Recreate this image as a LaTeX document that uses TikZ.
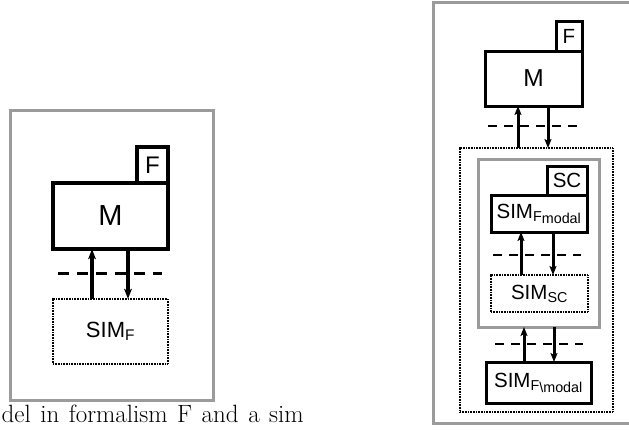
\documentclass[tikz,border=0pt]{standalone}
\usepackage{fontspec}
\newfontfamily\diagfont{Liberation Sans}
\usetikzlibrary{arrows.meta}
\definecolor{framegray}{RGB}{155,155,155}
\newcommand{\lowsub}[1]{\raisebox{-0.25ex}{#1}}
\begin{document}
\begin{tikzpicture}[x=1pt,y=-1pt,
  frame/.style={draw=framegray, line width=3pt, inner sep=0pt, outer sep=0pt},
  lbox/.style={draw, line width=3.4pt, inner sep=0pt, outer sep=0pt},
  rbox/.style={draw, line width=3pt, inner sep=0pt, outer sep=0pt},
  ldot/.style={draw, line width=2.4pt, dash pattern=on 0.8pt off 0.8pt, inner sep=0pt, outer sep=0pt},
  rdot/.style={draw, line width=2.2pt, dash pattern=on 0.8pt off 0.8pt, inner sep=0pt, outer sep=0pt},
  ldash/.style={line width=3pt, dash pattern=on 11pt off 8pt},
  rdash/.style={line width=2.8pt, dash pattern=on 9pt off 7pt},
  larr/.style={line width=3.4pt, -{Stealth[length=10pt,width=7.5pt,inset=2pt]}},
  rarr/.style={line width=3pt, -{Stealth[length=9pt,width=7pt,inset=2pt]}},
  lfont/.style={font=\diagfont\fontsize{29}{32}\selectfont},
  lsim/.style={font=\diagfont\fontsize{22}{25}\selectfont},
  lsmall/.style={font=\diagfont\fontsize{24}{27}\selectfont},
  rfont/.style={font=\diagfont\fontsize{24.5}{27}\selectfont},
  rsmall/.style={font=\diagfont\fontsize{20.5}{23}\selectfont}]
\useasboundingbox (0,0) rectangle (629,429);

% ---------- left diagram ----------
\node[frame, minimum width=203pt, minimum height=290pt] (lframe) at (111.5,255) {};
\node[lbox, lsmall, minimum width=31pt, minimum height=36pt] (lf) at (152.5,165) {F};
\node[lbox, lfont, minimum width=115pt, minimum height=66pt] (lm) at (110.5,216) {M};
\node[ldot, lsim, minimum width=115pt, minimum height=65pt] (lsim) at (110.5,331.5) {SIM\textsubscript{F}};
\coordinate (ldl) at (58,273);
\coordinate (ldr) at (162,273);
\draw[ldash] (ldl) -- (ldr);
\draw[larr] ([xshift=-18.5pt]lsim.north) -- ([xshift=-18.5pt]lm.south);
\draw[larr] ([xshift=17.5pt]lm.south) -- ([xshift=17.5pt]lsim.north);

\node[anchor=base west, inner sep=0pt, font=\fontsize{25}{28}\selectfont] (cap) at (1.5,422.5) {\spaceskip=0.38em del in formalism F and a sim};

% ---------- right diagram ----------
\node[frame, minimum width=207pt, minimum height=421pt] (rframe) at (536.5,212.5) {};
\node[rbox, rsmall, minimum width=26pt, minimum height=30pt] (rf) at (569,36) {F};
\node[rbox, rfont, minimum width=97pt, minimum height=55pt] (rm) at (533.5,78.5) {M};
\node[rdot, minimum width=153pt, minimum height=264pt] (rsim) at (536.5,280) {};
\node[frame, minimum width=121pt, minimum height=168pt] (rsc) at (538.5,243) {};
\node[rbox, rsmall, minimum width=40pt, minimum height=29pt] (sc) at (567,180.5) {SC};
\node[rbox, rsmall, minimum width=96pt, minimum height=37pt] (simfm) at (539,213.5) {SIM\textsubscript{F\lowsub{modal}}};
\node[rdot, rsmall, minimum width=97pt, minimum height=37pt] (simsc) at (539.5,293.5) {SIM\textsubscript{SC}};
\node[rbox, rsmall, minimum width=105pt, minimum height=41pt] (simfr) at (538.5,382.5) {SIM\textsubscript{F\lowsub{\textbackslash modal}}};

\coordinate (rd1l) at (488,126);
\coordinate (rd1r) at (577,126);
\draw[rdash] (rd1l) -- (rd1r);
\draw[rarr] ([xshift=-15.5pt]rsim.north -| rm.south) -- ([xshift=-15.5pt]rm.south);
\draw[rarr] ([xshift=14.5pt]rm.south) -- ([xshift=14.5pt]rsim.north -| rm.south);

\coordinate (rd2l) at (493,255);
\coordinate (rd2r) at (581,255);
\draw[rdash] (rd2l) -- (rd2r);
\draw[rarr] ([xshift=-18pt]simsc.north -| simfm.south) -- ([xshift=-18pt]simfm.south);
\draw[rarr] ([xshift=14pt]simfm.south) -- ([xshift=14pt]simsc.north -| simfm.south);

\coordinate (rd3l) at (495,344);
\coordinate (rd3r) at (583,344);
\draw[rdash] (rd3l) -- (rd3r);
\draw[rarr] ([xshift=-14.5pt]simfr.north) -- ([xshift=-14.5pt]rsc.south -| simfr.north);
\draw[rarr] ([xshift=15.5pt]rsc.south -| simfr.north) -- ([xshift=15.5pt]simfr.north);
\end{tikzpicture}
\end{document}
